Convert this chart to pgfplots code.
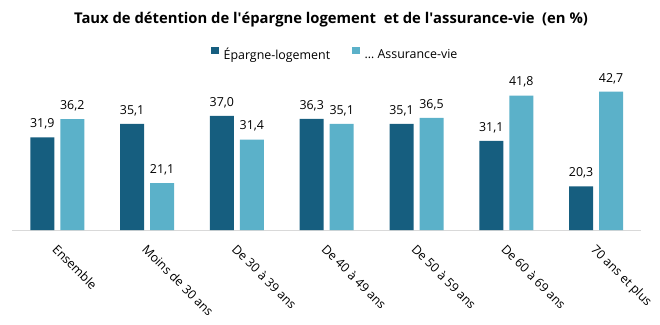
\documentclass[border=0pt]{standalone}
\usepackage{pgfplots}
\pgfplotsset{compat=1.18}
\usepackage{fontspec}
\setmainfont{Open Sans}
\definecolor{dark}{RGB}{22,94,127}
\definecolor{light}{RGB}{91,177,201}
\definecolor{axgray}{RGB}{217,217,217}
\begin{document}
\begin{tikzpicture}[x=1pt,y=1pt]
\useasboundingbox (0,0) rectangle (660,324);
\node[anchor=base,inner sep=0pt,font=\fontsize{14.8}{16}\selectfont\bfseries] at (331,300) {Taux de détention de l\textquotesingle épargne logement\ \ et de l\textquotesingle assurance-vie\ \ (en \%)};
\begin{axis}[
  at={(12.4pt,94pt)}, anchor=south west,
  scale only axis, width=628.6pt, height=148pt,
  xmin=-0.5, xmax=6.5, ymin=10, ymax=45,
  axis x line*=bottom, axis y line=none,
  x axis line style={axgray, line width=1pt, -},
  xtick=data, xtick style={draw=none},
  xticklabels={Ensemble,Moins de 30 ans,De 30 à 39 ans,De 40 à 49 ans,De 50 à 59 ans,De 60 à 69 ans,70 ans et plus},
  xticklabel style={xshift=1pt,yshift=-9pt,rotate=-45,anchor=north west,inner sep=0pt,font=\fontsize{12.4}{14}\selectfont},
  ytick=\empty,
  ybar, bar width=24pt,
  nodes near coords,
  nodes near coords style={anchor=base, inner sep=0pt, yshift=9.6pt, font=\fontsize{12.4}{14}\selectfont,
    /pgf/number format/.cd, fixed, fixed zerofill, precision=1, use comma},
  every node near coord/.append style={/pgf/number format/assume math mode=true},
  legend style={at={(0.512,1)}, anchor=center, yshift=28pt, draw=none, fill=none,
    legend columns=2, font=\fontsize{12.4}{14}\selectfont,
    /tikz/every even column/.append style={column sep=22pt},
    nodes={inner sep=0pt}},
  legend image code/.code={\fill[#1] (0pt,0pt) rectangle (7.5pt,7.5pt); \path (12.5pt,0pt);},
  clip=false,
]
\addplot[fill=dark, draw=none, bar shift=-15pt] coordinates {(0,31.9) (1,35.1) (2,37.0) (3,36.3) (4,35.1) (5,31.1) (6,20.3)};
\addplot[fill=light, draw=none, bar shift=15pt] coordinates {(0,36.2) (1,21.1) (2,31.4) (3,35.1) (4,36.5) (5,41.8) (6,42.7)};
\legend{Épargne-logement,… Assurance-vie}
\end{axis}
\end{tikzpicture}
\end{document}
